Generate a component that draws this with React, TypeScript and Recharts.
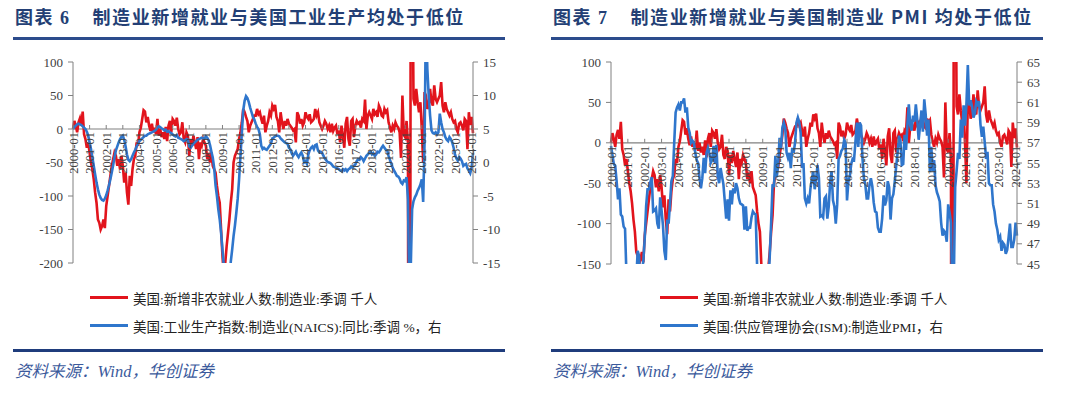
import React from "react";
import { LineChart, Line, XAxis, YAxis, ReferenceLine } from "recharts";

// monthly labels 2000-01 .. 2024-02
const months: string[] = [];
for (let y = 2000; y <= 2024; y++) {
  for (let m = 1; m <= 12; m++) months.push(`${y}-${String(m).padStart(2, "0")}`);
}
months.length = 290;

// 美国:新增非农就业人数:制造业:季调 (千人)
const mfgJobs = [
  0, 12, 5, -5, 10, 16, 5, 26, -8, -15, -28, -20, // 2000
  -35, -50, -60, -75, -95, -110, -135, -140, -150, -145, -135, -148,
  -115, -100, -85, -70, -55, -45, -35, -40, -55, -45, -60, -40,
  -55, -80, -65, -95, -113, -70, -85, -60, -45, -40, -20, -25,
  -5, 2, 15, 28, 26, 10, 18, 5, -3, 8, -5, 2,
  -8, 15, -10, 0, -12, -5, -15, 3, -18, 5, 12, -5, // 2005
  15, 12, 5, 17, 0, -8, -5, 10, -15, -20, -5, -10,
  -40, -15, -25, -10, -20, -30, -12, -45, -20, -25, -15, -20,
  -25, -45, -40, -50, -35, -55, -60, -65, -85, -100, -110, -150,
  -190, -220, -200, -175, -155, -135, -110, -90, -50, -40, -35, -30,
  -15, -5, 10, 30, 25, 18, 12, -5, 5, 10, 15, 20, // 2010
  20, 30, 22, 25, 15, 8, 20, -5, 5, 12, 25, 20,
  35, 30, 36, 18, 12, -5, 25, 10, 0, 12, 5, 15,
  8, 5, 2, -2, 0, -20, 25, 20, 8, 15, 5, 10,
  25, 18, 15, 22, 10, 12, 15, 30, 20, 25, 10, 5,
  0, 5, 12, 8, 0, 5, -5, 8, -3, 2, 5, -8, // 2015
  -2, -20, 5, -10, -28, 8, 18, -15, -25, 12, 15, -12,
  5, 12, 8, 10, 2, 15, 12, 44, 0, 20, 25, 20,
  15, 30, 22, 25, 18, 35, 30, 20, 18, 30, 25, 28,
  10, 2, -5, 5, 0, 10, 5, 2, -5, -43, 50, -8,
  -12, 12, -20, -1300, 250, 350, 45, 35, 60, 40, 25, 40, // 2020
  0, -50, 55, 50, 30, 35, 60, 40, 35, 65, 45, 40,
  45, 50, 70, 35, 25, 40, 30, 25, 20, 25, 15, 10,
  12, 0, -5, 8, 10, 5, -2, 15, 12, -30, 25, 6,
  18, -6,
];

// 美国:工业生产指数:制造业(NAICS):同比 (%)
const ipYoy = [
  5.0, 5.3, 5.5, 5.7, 5.8, 5.7, 5.6, 5.4, 5.2, 5.0, 4.6, 4.0, // 2000
  3.0, 2.0, 0.8, -0.5, -1.8, -3.0, -4.0, -4.8, -5.3, -5.6, -5.7, -5.4,
  -4.9, -4.2, -3.4, -2.5, -1.5, -0.4, 0.8, 1.8, 2.4, 3.0, 3.5, 3.8,
  4.0, 3.4, 2.4, 1.2, 0.4, 0.2, 0.5, 1.0, 1.5, 1.9, 2.4, 2.8,
  3.2, 3.4, 3.6, 3.8, 4.0, 4.0, 4.2, 4.3, 4.4, 4.5, 4.6, 4.7,
  4.9, 5.2, 5.4, 5.3, 5.1, 5.0, 4.8, 4.9, 4.6, 4.7, 4.5, 4.4, // 2005
  4.2, 4.0, 3.9, 4.1, 3.7, 3.6, 3.5, 3.4, 3.2, 3.3, 3.5, 3.4,
  2.4, 2.2, 2.5, 2.8, 3.0, 3.2, 3.4, 3.5, 3.6, 3.7, 3.6, 3.6,
  3.9, 3.7, 3.3, 2.6, 1.6, 0.7, -0.8, -3.4, -5.0, -7.0, -8.5, -10.5,
  -13.0, -15.5, -17.5, -18.5, -19.0, -18.0, -14.8, -13.0, -11.0, -9.4, -7.5, -5.4,
  -2.5, 1.0, 4.5, 7.8, 9.2, 9.9, 9.6, 9.0, 8.2, 7.5, 6.8, 6.4, // 2010
  5.8, 5.3, 5.0, 4.2, 2.5, 2.0, 2.2, 2.0, 1.9, 2.2, 2.5, 2.8,
  3.6, 3.7, 3.9, 4.0, 4.0, 3.9, 3.6, 3.4, 3.2, 3.0, 2.9, 2.8,
  2.2, 2.0, 1.4, 1.0, 1.3, 1.6, 1.1, 0.8, 1.2, 1.5, 1.0, 0.0,
  0.2, -0.2, 1.2, 1.8, 2.2, 2.4, 2.0, 2.6, 2.7, 1.8, 1.5, 1.6,
  1.4, 1.0, 0.6, 0.3, 0.1, 0.0, -0.1, -0.3, -0.6, -0.7, -0.8, -0.9, // 2015
  -1.0, -1.2, -1.3, -1.0, -1.2, -1.0, -1.3, -1.0, -0.9, -0.6, -0.8, -0.5,
  -0.3, 0.2, 0.5, 0.4, 0.8, 0.6, 0.2, 0.6, 1.0, 1.2, 1.5, 1.6,
  1.2, 1.4, 1.0, 1.2, 1.6, 1.5, 1.8, 2.2, 2.5, 2.2, 1.9, 1.8,
  1.0, 0.4, -0.2, -0.8, -1.2, -1.6, -2.0, -2.1, -2.4, -3.0, -3.2, -2.7,
  -2.8, -2.2, -5.5, -19.5, -16.0, -7.0, -5.8, -5.2, -4.8, -4.2, -3.8, -3.3, // 2020
  -2.5, -5.9, 3.0, 22.0, 14.0, 10.0, 7.0, 4.8, 4.4, 4.3, 4.5, 4.2,
  4.5, 7.3, 6.0, 5.0, 4.5, 3.8, 3.4, 3.2, 3.8, 3.5, 3.0, 2.2,
  1.2, 0.6, 0.3, 0.8, 0.6, 0.2, -0.5, -0.3, -0.2, -0.9, -1.2, -1.6,
  -0.8, 1.4,
];

// 美国:供应管理协会(ISM):制造业PMI
const ismPmi = [
  56.7, 55.8, 54.9, 54.7, 53.2, 51.4, 52.5, 49.9, 49.7, 48.7, 48.5, 43.9, // 2000
  42.3, 41.9, 43.1, 42.7, 41.3, 43.2, 43.5, 46.3, 45.8, 40.8, 44.1, 45.3,
  47.5, 50.7, 52.4, 52.4, 53.1, 53.6, 50.2, 50.3, 50.5, 49.0, 48.5, 51.6,
  50.3, 48.8, 46.3, 45.4, 49.4, 49.0, 51.0, 53.2, 53.7, 57.0, 60.0, 60.5,
  60.8, 60.2, 61.0, 61.0, 61.4, 60.0, 60.5, 58.5, 58.0, 57.0, 57.2, 57.0,
  56.0, 55.3, 55.0, 53.5, 52.5, 53.5, 55.5, 54.0, 56.0, 56.5, 56.0, 55.0, // 2005
  55.3, 56.7, 55.0, 56.8, 53.7, 53.0, 54.5, 53.7, 52.9, 51.2, 49.5, 51.4,
  49.3, 52.3, 50.9, 52.5, 52.0, 53.0, 52.5, 51.5, 51.0, 50.9, 50.8, 48.4,
  50.7, 48.3, 48.6, 48.6, 49.6, 50.2, 50.0, 49.9, 44.8, 38.9, 36.2, 33.1,
  35.6, 35.8, 36.3, 40.1, 42.8, 45.8, 49.1, 52.9, 52.6, 55.7, 53.6, 54.9,
  57.5, 56.5, 58.5, 59.0, 58.5, 56.0, 55.5, 56.0, 54.5, 56.5, 56.0, 57.0, // 2010
  59.0, 59.5, 59.0, 58.0, 54.5, 55.0, 51.5, 51.0, 51.5, 51.0, 52.5, 53.5,
  54.1, 52.4, 53.4, 54.8, 53.5, 49.7, 49.8, 49.6, 51.5, 51.7, 49.5, 50.7,
  53.1, 54.2, 51.3, 50.7, 49.0, 50.9, 55.4, 55.7, 56.2, 56.4, 57.3, 57.0,
  51.3, 53.2, 53.7, 54.9, 55.4, 55.3, 57.1, 59.0, 56.6, 59.0, 58.7, 55.5,
  53.5, 52.9, 51.5, 51.5, 52.8, 53.5, 52.7, 51.1, 50.2, 50.1, 48.6, 48.2, // 2015
  48.2, 49.5, 51.8, 50.8, 51.3, 53.2, 52.6, 49.4, 51.5, 51.9, 53.2, 54.7,
  56.0, 57.7, 57.2, 54.8, 54.9, 57.8, 56.3, 58.8, 60.8, 58.7, 58.2, 59.7,
  59.1, 60.8, 59.3, 57.3, 58.7, 60.2, 58.1, 61.3, 59.8, 57.7, 59.3, 54.1,
  56.6, 54.2, 55.3, 52.8, 52.1, 51.7, 51.2, 49.1, 47.8, 48.3, 48.1, 47.2,
  50.9, 50.1, 49.1, 41.5, 43.1, 52.6, 54.2, 56.0, 55.4, 59.3, 57.5, 60.7, // 2020
  58.7, 60.8, 64.7, 60.7, 61.2, 60.6, 59.5, 59.9, 61.1, 60.8, 61.1, 58.8,
  57.6, 58.6, 57.1, 55.4, 56.1, 53.0, 52.8, 52.8, 50.9, 50.2, 49.0, 48.4,
  47.4, 47.7, 46.3, 47.1, 46.9, 46.0, 46.4, 47.6, 49.0, 46.7, 46.7, 47.4,
  49.1, 47.8,
];

const leftTicks1 = [-200, -150, -100, -50, 0, 50, 100];
const rightTicks1 = [-15, -10, -5, 0, 5, 10, 15];
const leftTicks2 = [-150, -100, -50, 0, 50, 100];
const rightTicks2 = [45, 47, 49, 51, 53, 55, 57, 59, 61, 63, 65];

const data1 = months.map((m, i) => ({ month: m, jobs: mfgJobs[i], ip: ipYoy[i] }));
const data2 = months.map((m, i) => ({ month: m, jobs: mfgJobs[i], pmi: ismPmi[i] }));

const RED = "#e2141c";
const BLUE = "#2f76cc";
const AXIS = "#808080";
const SERIF = "'Times New Roman', 'Liberation Serif', 'Noto Sans CJK SC', serif";
const CJK = "'Liberation Serif', 'Noto Sans CJK SC', serif";

const CHART_W = 540;
const CHART_H = 280;

function YearTick(props: any) {
  const { x, payload, zeroY } = props;
  return (
    <g>
      <line x1={x} x2={x} y1={zeroY} y2={zeroY - 4} stroke={AXIS} />
      <text
        transform={`translate(${x + 4.5},${zeroY + 3}) rotate(-90)`}
        textAnchor="end"
        fontSize={12.5}
        fontFamily={SERIF}
        fill="#404040"
      >
        {payload.value}
      </text>
    </g>
  );
}

type ChartProps = {
  data: any[];
  blueKey: string;
  leftDomain: [number, number];
  rightDomain: [number, number];
  leftTicks: number[];
  rightTicks: number[];
  margin: { top: number; right: number; bottom: number; left: number };
};

function DualChart({ data, blueKey, leftDomain, rightDomain, leftTicks, rightTicks, margin }: ChartProps) {
  const plotH = CHART_H - margin.top - margin.bottom - 1;
  const zeroY = margin.top + (plotH * leftDomain[1]) / (leftDomain[1] - leftDomain[0]);
  const tickStyle = { fontSize: 13, fontFamily: SERIF, fill: "#404040" };
  return (
    <LineChart width={CHART_W} height={CHART_H} data={data} margin={margin}>
      <XAxis
        dataKey="month"
        interval={11}
        axisLine={false}
        tickLine={false}
        height={1}
        tick={(p: any) => <YearTick {...p} zeroY={zeroY} />}
      />
      <YAxis
        yAxisId="left"
        width={50}
        domain={leftDomain}
        ticks={leftTicks}
        interval={0}
        allowDataOverflow
        stroke={AXIS}
        tickSize={5}
        tickMargin={5}
        tick={tickStyle}
      />
      <YAxis
        yAxisId="right"
        orientation="right"
        width={50}
        domain={rightDomain}
        ticks={rightTicks}
        interval={0}
        allowDataOverflow
        stroke={AXIS}
        tickSize={5}
        tickMargin={5}
        tick={tickStyle}
      />
      <ReferenceLine yAxisId="left" y={0} stroke={AXIS} strokeWidth={1.2} />
      <Line yAxisId="left" dataKey="jobs" stroke={RED} strokeWidth={2.6} dot={false} isAnimationActive={false} />
      <Line yAxisId="right" dataKey={blueKey} stroke={BLUE} strokeWidth={2.6} dot={false} isAnimationActive={false} />
    </LineChart>
  );
}

function LegendRow({ left, top, color, text }: { left: number; top: number; color: string; text: string }) {
  return (
    <div style={{ position: "absolute", left, top, height: 18, display: "flex", alignItems: "center" }}>
      <div style={{ width: 38, height: 3, background: color }} />
      <span style={{ marginLeft: 5, fontSize: 13.5, fontFamily: CJK, color: "#222", whiteSpace: "nowrap" }}>{text}</span>
    </div>
  );
}

function Panel({ offset, num, title, children, legend }: any) {
  return (
    <div style={{ position: "absolute", left: offset, top: 0, width: 540, height: 395 }}>
      <div
        style={{
          position: "absolute",
          left: 15,
          top: 3,
          lineHeight: "26px",
          fontSize: 18,
          fontWeight: 700,
          fontFamily: "'Noto Sans CJK SC', sans-serif",
          color: "#233f75",
          letterSpacing: 1.6,
          whiteSpace: "nowrap",
        }}
      >
        图表 <span style={{ fontFamily: SERIF }}>{num}</span>
        <span style={{ marginLeft: 22 }}>{title}</span>
      </div>
      <div style={{ position: "absolute", left: 13, top: 37, width: 492, height: 3, background: "#2c4c8c" }} />
      <div style={{ position: "absolute", left: 0, top: 0 }}>{children}</div>
      {legend}
      <div style={{ position: "absolute", left: 13, top: 348.5, width: 492, height: 3, background: "#1f3c7c" }} />
      <div
        style={{
          position: "absolute",
          left: 15,
          top: 358,
          fontSize: 16.5,
          fontStyle: "italic",
          fontFamily: CJK,
          color: "#3b5a9c",
          whiteSpace: "nowrap",
        }}
      >
        资料来源：Wind，华创证券
      </div>
    </div>
  );
}

export default function App() {
  return (
    <div style={{ position: "absolute", left: 0, top: 0, width: 1080, height: 395, background: "#fff", overflow: "hidden" }}>
      <Panel
        offset={0}
        num="6"
        title="制造业新增就业与美国工业生产均处于低位"
        legend={
          <>
            <LegendRow left={90} top={288.5} color={RED} text="美国:新增非农就业人数:制造业:季调 千人" />
            <LegendRow left={90} top={316.5} color={BLUE} text="美国:工业生产指数:制造业(NAICS):同比:季调 %，右" />
          </>
        }
      >
        <DualChart
          data={data1}
          blueKey="ip"
          leftDomain={[-200, 100]}
          rightDomain={[-15, 15]}
          leftTicks={leftTicks1}
          rightTicks={rightTicks1}
          margin={{ top: 62, right: 17, bottom: 16, left: 23 }}
        />
      </Panel>
      <Panel
        offset={538}
        num="7"
        title="制造业新增就业与美国制造业 PMI 均处于低位"
        legend={
          <>
            <LegendRow left={122} top={288.5} color={RED} text="美国:新增非农就业人数:制造业:季调 千人" />
            <LegendRow left={122} top={316.5} color={BLUE} text="美国:供应管理协会(ISM):制造业PMI，右" />
          </>
        }
      >
        <DualChart
          data={data2}
          blueKey="pmi"
          leftDomain={[-150, 100]}
          rightDomain={[45, 65]}
          leftTicks={leftTicks2}
          rightTicks={rightTicks2}
          margin={{ top: 62, right: 11, bottom: 15, left: 23 }}
        />
      </Panel>
    </div>
  );
}
